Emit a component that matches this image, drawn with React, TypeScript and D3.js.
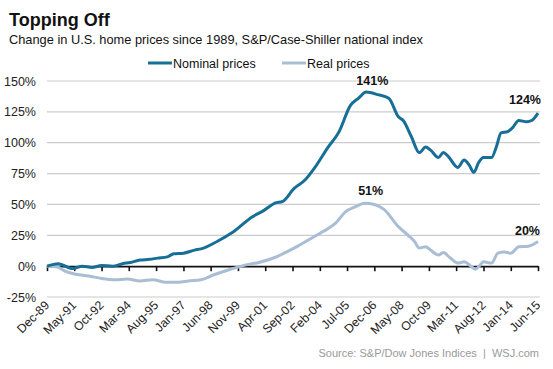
import * as d3 from 'd3';
import React, { useRef, useEffect } from 'react';

const nominalDates = [
  '1989-12', '1990-07', '1991-04', '1991-10', '1992-04', '1992-10', '1993-05', '1993-11',
  '1994-04', '1994-10', '1995-04', '1995-09', '1996-03', '1996-07', '1997-01', '1997-08',
  '1997-12', '1998-10', '1999-08', '2000-08', '2001-03', '2001-10', '2002-03', '2002-10',
  '2003-05', '2003-11', '2004-07', '2005-02', '2005-09', '2006-02', '2006-07', '2007-02',
  '2007-09', '2008-03', '2008-06', '2008-11', '2009-04', '2009-08', '2009-11', '2010-04',
  '2010-07', '2010-10', '2011-04', '2011-08', '2011-11', '2012-02', '2012-05', '2012-08',
  '2013-01', '2013-04', '2013-07', '2013-11', '2014-02', '2014-06', '2014-11', '2015-02',
  '2015-06'
]
const nominalValues = [
  0, 2, -2, 0, -1, 0.5, 0, 2,
  3, 5, 5.5, 6.5, 7.5, 10, 10.5, 13,
  14, 20, 27.6, 40, 45, 51, 52.5, 63,
  70, 80, 96, 109, 130, 136, 141, 139,
  136, 121, 118, 105, 92, 96.5, 94, 88,
  92, 89, 80, 86, 82, 76, 84, 88,
  88, 96.5, 108, 109, 112, 118, 117, 118,
  124
]

const realDates = [
  '1989-12', '1990-06', '1990-12', '1991-06', '1992-02', '1992-10', '1993-06', '1994-02',
  '1994-10', '1995-06', '1996-02', '1996-10', '1997-04', '1997-12', '1998-08', '1999-04',
  '2000-04', '2000-12', '2001-10', '2002-06', '2002-12', '2003-08', '2004-04', '2004-12',
  '2005-06', '2005-12', '2006-06', '2006-12', '2007-06', '2008-03', '2008-09', '2009-01',
  '2009-04', '2009-08', '2009-11', '2010-04', '2010-07', '2010-11', '2011-04', '2011-08',
  '2012-01', '2012-03', '2012-06', '2012-08', '2013-01', '2013-05', '2013-09', '2014-01',
  '2014-06', '2014-11', '2015-02', '2015-06'
]
const realValues = [
  0, -0.5, -4.5, -6.5, -8, -10, -11, -10.5,
  -12, -11, -13, -13, -12, -11, -7, -3.5,
  1, 3, 7, 12, 16, 22, 28, 35,
  44, 48, 51, 50, 46, 32, 25, 20,
  14.6, 15.7, 13, 9, 11, 7, 2.5, 3.5,
  -1, -2.5, 1, 3.5, 2.5, 10.5, 11.5, 10.5,
  15.7, 16, 17, 20
]

const yTicks = [-25, 0, 25, 50, 75, 100, 125, 150]
const xTickLabels = [
  'Dec-89', 'May-91', 'Oct-92', 'Mar-94', 'Aug-95', 'Jan-97', 'Jun-98', 'Nov-99', 'Apr-01',
  'Sep-02', 'Feb-04', 'Jul-05', 'Dec-06', 'May-08', 'Oct-09', 'Mar-11', 'Aug-12', 'Jan-14', 'Jun-15'
]

const NOMINAL = '#176f97'
const REAL = '#a9bed5'
const FONT = '"Liberation Sans", Arial, sans-serif'

export default function App() {
  const ref = useRef<SVGSVGElement>(null)

  useEffect(() => {
    const svg = d3.select(ref.current)
    svg.selectAll('*').remove()

    const width = 553
    const height = 369
    const margin = { left: 47, right: 15, top: 81, bottom: 72 }

    const parse = d3.timeParse('%Y-%m')
    const parseTick = d3.timeParse('%b-%y')

    const nominal = nominalDates.map((d, i) => ({ date: parse(d) as Date, v: nominalValues[i] }))
    const real = realDates.map((d, i) => ({ date: parse(d) as Date, v: realValues[i] }))
    const tickDates = xTickLabels.map(d => parseTick(d) as Date)

    const x = d3.scaleTime()
      .domain([tickDates[0], tickDates[tickDates.length - 1]])
      .range([margin.left, width - margin.right])

    const y = d3.scaleLinear()
      .domain([-25, 150])
      .range([height - margin.bottom, margin.top])

    svg.append('text')
      .attr('x', 9).attr('y', 26)
      .style('font-family', FONT).style('font-size', '18px').style('font-weight', 'bold')
      .attr('fill', '#111')
      .text('Topping Off')

    svg.append('text')
      .attr('x', 9).attr('y', 44)
      .style('font-family', FONT).style('font-size', '12.8px')
      .attr('fill', '#111')
      .text('Change in U.S. home prices since 1989, S&P/Case-Shiller national index')

    // legend
    const legend = [
      { name: 'Nominal prices', colour: NOMINAL, x: 148 },
      { name: 'Real prices', colour: REAL, x: 282 }
    ]
    legend.forEach(l => {
      svg.append('line')
        .attr('x1', l.x).attr('x2', l.x + 24)
        .attr('y1', 63).attr('y2', 63)
        .attr('stroke', l.colour).attr('stroke-width', 3)
      svg.append('text')
        .attr('x', l.x + 25).attr('y', 67.5)
        .style('font-family', FONT).style('font-size', '12.5px')
        .attr('fill', '#111')
        .text(l.name)
    })

    // grid + y labels
    const grid = svg.append('g')
    grid.selectAll('line')
      .data(yTicks.filter(t => t !== 0))
      .enter().append('line')
      .attr('x1', margin.left).attr('x2', width - margin.right + 2)
      .attr('y1', d => y(d)).attr('y2', d => y(d))
      .attr('stroke', '#cccccc').attr('stroke-width', 1.2)

    svg.append('g')
      .selectAll('text')
      .data(yTicks)
      .enter().append('text')
      .attr('x', 36).attr('y', d => y(d) + 4.5)
      .attr('text-anchor', 'end')
      .style('font-family', FONT).style('font-size', '12.5px')
      .attr('fill', '#222')
      .text(d => d + '%')

    // zero axis with ticks
    const xAxis = d3.axisBottom(x)
      .tickValues(tickDates)
      .tickSize(5)
      .tickSizeOuter(0)
      .tickFormat(() => '')

    const axisG = svg.append('g')
      .attr('transform', `translate(0, ${y(0)})`)
      .call(xAxis)
    axisG.select('.domain').attr('stroke', '#111').attr('stroke-width', 1.6)
    axisG.selectAll('.tick line').attr('stroke', '#111').attr('stroke-width', 1.6)

    // x labels at the bottom
    svg.append('g')
      .selectAll('text')
      .data(tickDates)
      .enter().append('text')
      .attr('transform', (d, i) => `translate(${x(d) + 3}, 306) rotate(-45)`)
      .attr('text-anchor', 'end')
      .style('font-family', FONT).style('font-size', '12.3px')
      .attr('fill', '#222')
      .text((d, i) => xTickLabels[i])

    const line = d3.line<{ date: Date, v: number }>()
      .x(d => x(d.date))
      .y(d => y(d.v))
      .curve(d3.curveMonotoneX)

    svg.append('path')
      .datum(real)
      .attr('d', line)
      .attr('fill', 'none')
      .attr('stroke', REAL).attr('stroke-width', 3)
      .attr('stroke-linejoin', 'round')

    svg.append('path')
      .datum(nominal)
      .attr('d', line)
      .attr('fill', 'none')
      .attr('stroke', NOMINAL).attr('stroke-width', 3)
      .attr('stroke-linejoin', 'round')

    // annotations
    const peakN = nominal.reduce((a, b) => (b.v > a.v ? b : a))
    const peakR = real.reduce((a, b) => (b.v > a.v ? b : a))
    const lastN = nominal[nominal.length - 1]
    const lastR = real[real.length - 1]
    const notes = [
      { x: x(peakN.date) + 6, y: y(peakN.v) - 7, text: Math.round(peakN.v) + '%', anchor: 'middle' },
      { x: x(peakR.date) + 6, y: y(peakR.v) - 8, text: Math.round(peakR.v) + '%', anchor: 'middle' },
      { x: x(lastN.date) + 3, y: y(lastN.v) - 9, text: Math.round(lastN.v) + '%', anchor: 'end' },
      { x: x(lastR.date) + 2, y: y(lastR.v) - 6, text: Math.round(lastR.v) + '%', anchor: 'end' }
    ]
    svg.append('g')
      .selectAll('text')
      .data(notes)
      .enter().append('text')
      .attr('x', d => d.x).attr('y', d => d.y)
      .attr('text-anchor', d => d.anchor)
      .style('font-family', FONT).style('font-size', '12.5px').style('font-weight', 'bold')
      .attr('fill', '#111')
      .text(d => d.text)

    svg.append('text')
      .attr('x', 539).attr('y', 357)
      .attr('text-anchor', 'end')
      .style('font-family', FONT).style('font-size', '11px')
      .attr('fill', '#999')
      .attr('xml:space', 'preserve')
      .text('Source: S&P/Dow Jones Indices  |  WSJ.com')
  }, [])

  return (
    <svg
      ref={ref}
      width={553}
      height={369}
      style={{ position: 'absolute', left: 0, top: 0, background: '#fff' }}
    />
  )
}
